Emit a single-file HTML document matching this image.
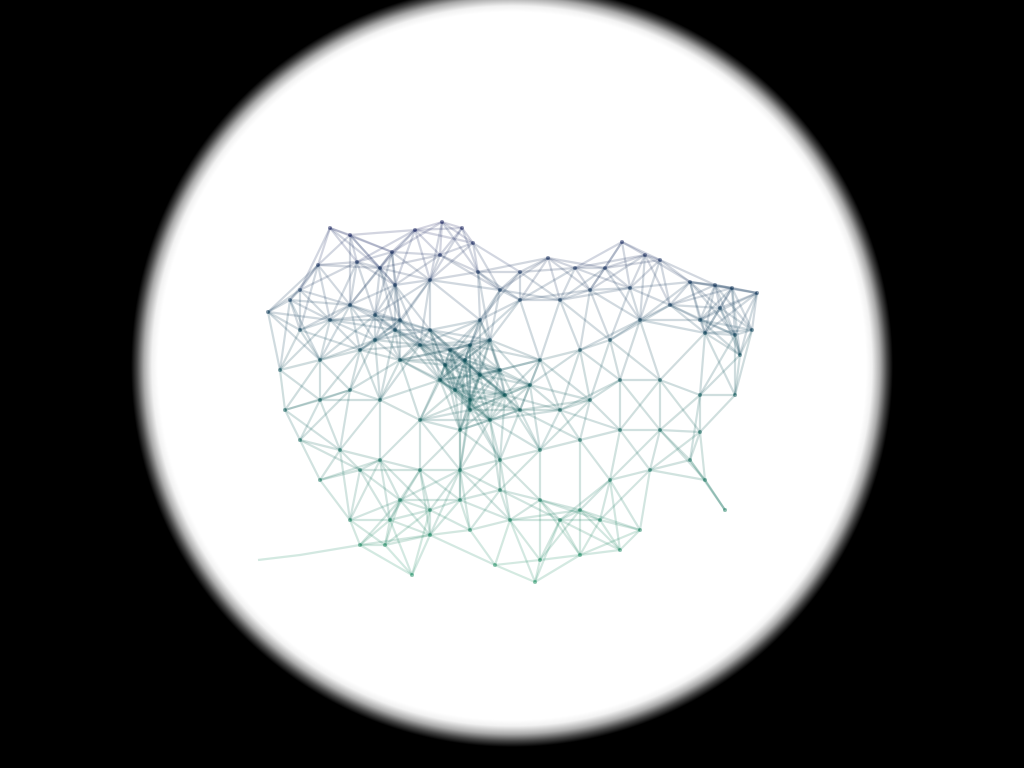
<!DOCTYPE html>
<html><head><meta charset="utf-8"><style>
html,body{margin:0;padding:0;width:1024px;height:768px;overflow:hidden;background:#000;}
#bg{position:absolute;left:0;top:0;width:1024px;height:768px;
background:radial-gradient(circle 380px at 512px 366px,#fff 354px,#f2f2f2 360px,#aaa 368px,#444 375px,#000 381px);}
svg{position:absolute;left:0;top:0;}
</style></head><body>
<div id="bg"></div>
<svg id="net" width="1024" height="768"></svg>
<script>
const nodeX=[330,350,357,318,300,268,290,392,415,442,462,473,440,478,430,395,380,520,548,575,605,622,645,660,690,715,732,757,752,735,705,720,630,590,560,520,500,480,470,450,430,400,375,350,330,300,280,320,360,400,440,470,500,540,580,610,640,670,700,740,735,700,660,620,590,560,520,490,460,420,380,350,320,285,300,340,380,420,460,500,540,580,620,660,700,690,650,610,580,540,500,460,430,400,360,320,350,390,430,470,510,560,600,640,620,580,540,495,535,385,360,412,725,705,465,480,455,470,490,445,420,375,395,505,530];
const nodeY=[228,235,262,265,290,312,300,252,230,222,228,243,255,272,280,285,268,272,258,268,268,242,255,260,282,285,288,293,330,335,333,308,288,290,300,300,290,320,345,350,330,320,315,305,320,330,370,360,350,360,380,400,370,360,350,340,320,305,320,355,395,395,380,380,400,410,410,420,430,420,400,390,400,410,440,450,460,470,470,460,450,440,430,430,432,460,470,480,510,500,490,500,510,500,470,480,520,520,535,530,520,520,520,530,550,555,560,565,582,545,545,575,510,480,360,375,390,410,340,365,345,340,330,395,385];
const extraA=[[258,560,300,555],[300,555,360,545],[705,480,725,510],[735,335,740,355]];
const svg=document.getElementById('net');
const NS='http://www.w3.org/2000/svg';
function col(y){const t=Math.max(0,Math.min(1,(y-220)/360));
 const a=[35,40,100],m=[15,85,90],b=[40,150,105];
 const s=t<0.45?[a,m,t/0.45]:[m,b,(t-0.45)/0.55];
 const p=s[0],q=s[1],u=s[2];
 return `rgb(${Math.round(p[0]+(q[0]-p[0])*u)},${Math.round(p[1]+(q[1]-p[1])*u)},${Math.round(p[2]+(q[2]-p[2])*u)})`;}
function line(x1,y1,x2,y2){const l=document.createElementNS(NS,'line');
 l.setAttribute('x1',x1);l.setAttribute('y1',y1);l.setAttribute('x2',x2);l.setAttribute('y2',y2);
 l.setAttribute('stroke',col((y1+y2)/2));l.setAttribute('stroke-width',2.2);l.setAttribute('stroke-opacity',0.2);
 
 
 svg.appendChild(l);}
for(let i=0;i<nodeX.length;i++)for(let j=i+1;j<nodeX.length;j++){
 const d=Math.hypot(nodeX[i]-nodeX[j],nodeY[i]-nodeY[j]);
 if(d<72)line(nodeX[i],nodeY[i],nodeX[j],nodeY[j]);}
extraA.forEach(e=>line(e[0],e[1],e[2],e[3]));
for(let i=0;i<nodeX.length;i++){const c=document.createElementNS(NS,'circle');
 c.setAttribute('cx',nodeX[i]);c.setAttribute('cy',nodeY[i]);c.setAttribute('r',2);
 c.setAttribute('fill',col(nodeY[i]));c.setAttribute('fill-opacity',0.5);
 
 
 svg.appendChild(c);}
</script>
</body></html>
